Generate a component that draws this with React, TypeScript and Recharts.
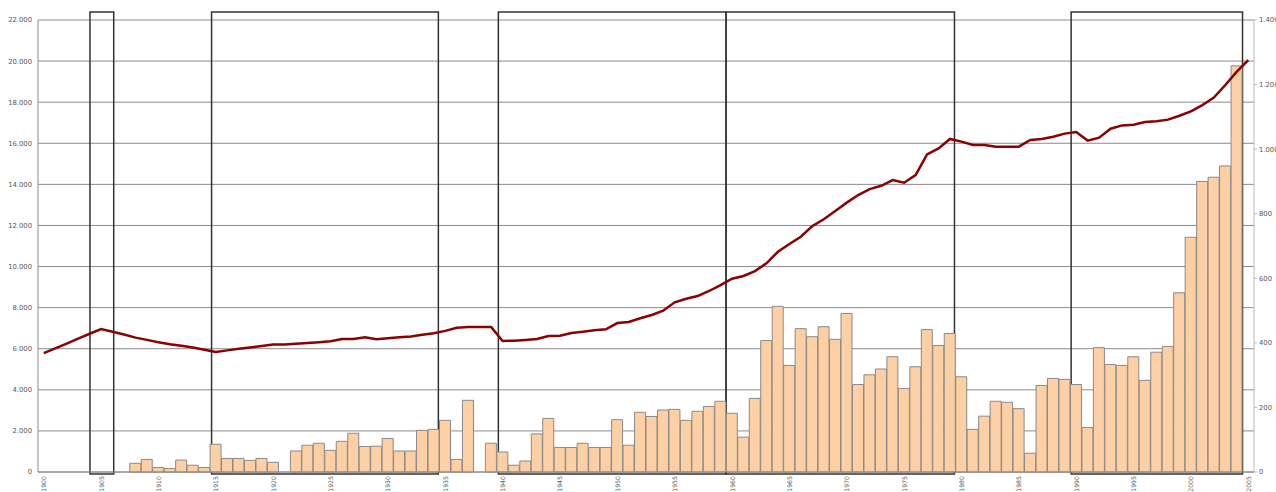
import React from 'react';
import { ComposedChart, Bar, Line, XAxis, YAxis, CartesianGrid, ReferenceArea } from 'recharts';

const START_YEAR = 1900;

// Bars (right axis, 0–1400)
const barValues: (number | null)[] = [
  null, null, null, null, null, null, null, null,
  27, 39, 14, 11, 37, 21, 14, 86, 42, 42, 36, 42,
  30, null, 65, 83, 89, 67, 95, 120, 79, 80,
  104, 65, 65, 129, 132, 160, 39, 222, null, 89,
  62, 21, 34, 118, 166, 76, 76, 89, 76, 76,
  162, 83, 185, 172, 192, 194, 160, 188, 203, 219,
  182, 108, 228, 407, 513, 330, 444, 419, 450, 411,
  491, 271, 301, 319, 357, 259, 326, 441, 392, 429,
  295, 132, 173, 219, 216, 196, 58, 268, 290, 287,
  271, 138, 385, 333, 330, 357, 284, 371, 389, 555,
  727, 900, 913, 948, 1258, null,
];

// Line (left axis, 0–22000)
const lineValues: number[] = [
  5790, 6020, 6250, 6490, 6730, 6960, 6830, 6690, 6540, 6430,
  6320, 6220, 6140, 6060, 5950, 5840, 5920, 6000, 6060, 6130,
  6200, 6210, 6240, 6280, 6320, 6360, 6470, 6470, 6555, 6460,
  6510, 6560, 6600, 6680, 6750, 6870, 7020, 7060, 7060, 7060,
  6380, 6390, 6430, 6470, 6620, 6635, 6765, 6830, 6895, 6945,
  7250, 7300, 7480, 7640, 7850, 8260, 8435, 8565, 8810, 9100,
  9410, 9540, 9780, 10160, 10720, 11100, 11450, 11970, 12300, 12700,
  13110, 13480, 13770, 13930, 14210, 14080, 14450, 15460, 15750, 16210,
  16080, 15915, 15915, 15835, 15835, 15835, 16160, 16210, 16320, 16470,
  16550, 16130, 16270, 16710, 16870, 16900, 17030, 17070, 17150, 17340,
  17550, 17860, 18220, 18835, 19485, 20050,
];

const years: number[] = lineValues.map((_, i) => START_YEAR + i);

const leftTicks = [0, 2000, 4000, 6000, 8000, 10000, 12000, 14000, 16000, 18000, 20000, 22000];
const rightTicks = [0, 200, 400, 600, 800, 1000, 1200, 1400];

// Highlighted periods (in year units, where year Y spans [Y, Y+1])
const periodStarts = [1904.53, 1915.13, 1940.13, 1959.98, 1990.06];
const periodEnds = [1906.6, 1934.9, 1959.98, 1979.89, 2005.0];
const periodTop = 22389;
const periodBottom = -97;

const data = years.map((y, i) => ({
  year: y,
  pos: y + 0.5,
  bars: barValues[i],
  line: lineValues[i],
}));

const fmt = (v: number) => String(v).replace(/\B(?=(\d{3})+(?!\d))/g, '.');

const FONT = 'DejaVu Sans';
const TXT = '#595959';

const XTick = (props: any) => {
  const { x, payload } = props;
  const y = 476;
  return (
    <text
      x={x}
      y={y}
      transform={`rotate(-90, ${x}, ${y})`}
      textAnchor="end"
      dominantBaseline="central"
      fontFamily={FONT}
      fontSize={6.2}
      fill={TXT}
    >
      {payload.value}
    </text>
  );
};

export default function App() {
  return (
    <div style={{ position: 'absolute', left: 0, top: 0, background: '#fff' }}>
      <ComposedChart
        width={1276}
        height={492}
        data={data}
        margin={{ top: 20, right: 0, bottom: 0, left: 0 }}
        barCategoryGap={0}
        barGap={0}
      >
        <CartesianGrid yAxisId="left" horizontal vertical={false} stroke="#8c8c8c" strokeWidth={1} />
        <XAxis
          dataKey="year"
          interval={4}
          height={20}
          tick={<XTick />}
          tickLine={false}
          tickSize={4}
          axisLine={{ stroke: '#8c8c8c' }}
        />
        <XAxis xAxisId="pos" type="number" dataKey="pos" domain={[1900, 2006]} hide allowDataOverflow />
        <YAxis
          yAxisId="left"
          orientation="left"
          width={38}
          domain={[0, 22000]}
          ticks={leftTicks}
          tickFormatter={fmt}
          tick={{ fontFamily: FONT, fontSize: 6.8, fill: TXT }}
          tickLine={false}
          tickSize={4}
          tickMargin={2}
          axisLine={{ stroke: '#8c8c8c' }}
          interval={0}
        />
        <YAxis
          yAxisId="right"
          orientation="right"
          width={22}
          domain={[0, 1400]}
          ticks={rightTicks}
          tickFormatter={fmt}
          tick={{ fontFamily: FONT, fontSize: 6.8, fill: TXT, textAnchor: 'start' }}
          tickLine={{ stroke: '#bbbbbb' }}
          tickSize={3}
          tickMargin={2}
          axisLine={{ stroke: '#bbbbbb' }}
          interval={0}
        />
        <Bar
          yAxisId="right"
          dataKey="bars"
          fill="#fccfa4"
          stroke="#8a8a8a"
          strokeWidth={1}
          isAnimationActive={false}
        />
        <Line
          yAxisId="left"
          dataKey="line"
          type="linear"
          stroke="#8b0000"
          strokeWidth={2.5}
          dot={false}
          activeDot={false}
          isAnimationActive={false}
        />
        {periodStarts.map((s, i) => (
          <ReferenceArea
            key={i}
            xAxisId="pos"
            yAxisId="left"
            x1={s}
            x2={periodEnds[i]}
            y1={periodBottom}
            y2={periodTop}
            ifOverflow="visible"
            fill="none"
            fillOpacity={0}
            stroke="#333333"
            strokeWidth={1.5}
          />
        ))}
      </ComposedChart>
    </div>
  );
}
